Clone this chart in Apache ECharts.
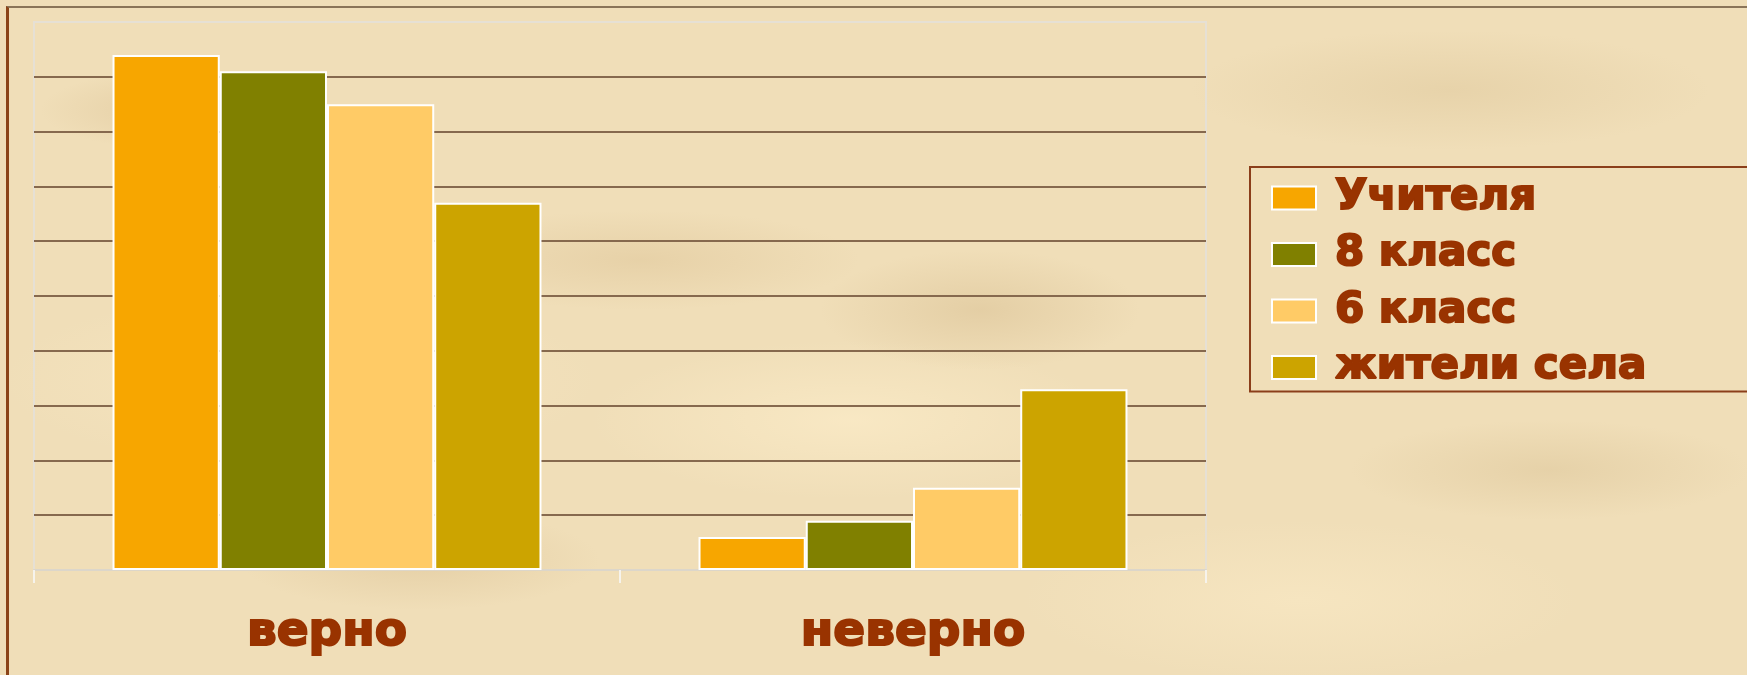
<!DOCTYPE html>
<html>
<head>
<meta charset="utf-8">
<script src="https://cdn.jsdelivr.net/npm/echarts@6/dist/echarts.min.js"></script>
<style>
html, body { margin: 0; padding: 0; width: 1747px; height: 675px; overflow: hidden; }
body {
  background-color: #F0DEB8;
  background-image:
    radial-gradient(ellipse 140px 40px at 180px 110px, rgba(205,175,125,0.35), rgba(205,175,125,0) 100%),
    radial-gradient(ellipse 220px 50px at 640px 260px, rgba(210,180,130,0.30), rgba(210,180,130,0) 100%),
    radial-gradient(ellipse 160px 60px at 980px 310px, rgba(200,170,120,0.30), rgba(200,170,120,0) 100%),
    radial-gradient(ellipse 260px 60px at 1450px 90px, rgba(205,178,128,0.25), rgba(205,178,128,0) 100%),
    radial-gradient(ellipse 200px 50px at 1550px 470px, rgba(200,172,122,0.25), rgba(200,172,122,0) 100%),
    radial-gradient(ellipse 180px 50px at 420px 560px, rgba(205,175,125,0.30), rgba(205,175,125,0) 100%),
    radial-gradient(ellipse 260px 80px at 850px 420px, rgba(255,240,205,0.55), rgba(255,240,205,0) 100%),
    radial-gradient(ellipse 300px 90px at 300px 380px, rgba(252,236,200,0.5), rgba(252,236,200,0) 100%),
    radial-gradient(ellipse 280px 80px at 1300px 600px, rgba(252,236,200,0.5), rgba(252,236,200,0) 100%);
}
#frame { position: absolute; left: 6px; top: 6px; right: 0; bottom: 0;
  border-top: 2px solid #8A7458; border-left: 3px solid #8B4418; }
#chart { position: absolute; left: 0; top: 0; width: 1747px; height: 675px; }
</style>
</head>
<body>
<div id="frame"></div>
<div id="chart"></div>
<script>
// ---- data ----
const categories = ['верно', 'неверно'];
const seriesNames = ['Учителя', '8 класс', '6 класс', 'жители села'];
const teachers = [94, 6];
const grade8 = [91, 9];
const grade6 = [85, 15];
const villagers = [67, 33];
const seriesValues = [teachers, grade8, grade6, villagers];
const colors = ['#F7A600', '#808000', '#FFCB66', '#CCA400'];
const axisMin = 0, axisMax = 100, axisStep = 10;

const textColor = '#993300';
const chart = echarts.init(document.getElementById('chart'), null, { renderer: 'canvas' });

const option = {
  animation: false,
  backgroundColor: 'transparent',
  grid: {
    left: 34, right: 541, top: 22, bottom: 105,
    show: true, borderColor: '#E6E0D4', borderWidth: 2, backgroundColor: 'transparent'
  },
  legend: {
    orient: 'vertical',
    left: 1250, top: 167,
    itemWidth: 44, itemHeight: 23, itemGap: 12.5,
    padding: [9, 420, 2, 21],
    borderColor: '#8B3E1A', borderWidth: 2,
    selectedMode: false,
    icon: 'rect',
    textStyle: {
      color: textColor, fontFamily: 'DejaVu Sans', fontWeight: 'bold',
      fontSize: 42, lineHeight: 44, padding: [0, 0, 0, 14],
      textBorderColor: textColor, textBorderWidth: 2
    },
    data: seriesNames
  },
  xAxis: {
    type: 'category',
    data: categories,
    axisLine: { lineStyle: { color: '#DCD6CA', width: 2 } },
    axisTick: { show: true, length: 13, lineStyle: { color: '#F6F3EC', width: 2 } },
    axisLabel: {
      color: textColor, fontFamily: 'DejaVu Sans', fontWeight: 'bold',
      fontSize: 47, margin: 39,
      textBorderColor: textColor, textBorderWidth: 2
    },
    splitLine: { show: false }
  },
  yAxis: {
    type: 'value',
    min: axisMin, max: axisMax, interval: axisStep,
    axisLabel: { show: false },
    axisLine: { show: false },
    axisTick: { show: false },
    splitLine: {
      show: true, showMinLine: false, showMaxLine: false,
      lineStyle: { color: '#86694E', width: 2 }
    }
  },
  series: seriesNames.map((name, i) => ({
    name: name,
    type: 'bar',
    data: seriesValues[i],
    barGap: '0%',
    barCategoryGap: '26.8%',
    itemStyle: { color: colors[i], borderColor: '#FFFFFF', borderWidth: 2 }
  }))
};

chart.setOption(option);
</script>
</body>
</html>
